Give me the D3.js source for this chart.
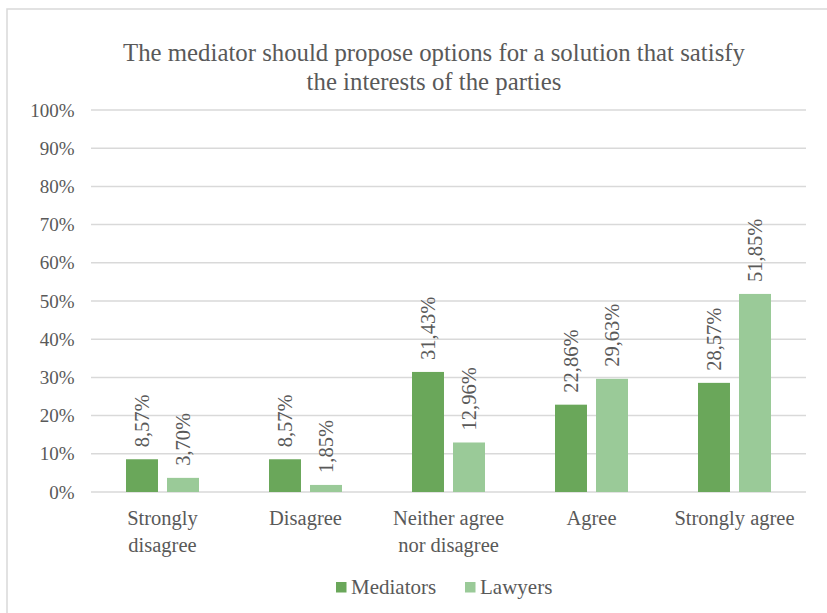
<!DOCTYPE html>
<html>
<head>
<meta charset="utf-8">
<script src="https://cdn.jsdelivr.net/npm/d3@7"></script>
<style>
  body { margin: 0; background: #fff; }
</style>
</head>
<body>
<script>
// data
const categories = ['Strongly disagree', 'Disagree', 'Neither agree nor disagree', 'Agree', 'Strongly agree'];
const catLines = [['Strongly', 'disagree'], ['Disagree'], ['Neither agree', 'nor disagree'], ['Agree'], ['Strongly agree']];
const series = ['Mediators', 'Lawyers'];
const mediators = [8.57, 8.57, 31.43, 22.86, 28.57];
const lawyers = [3.70, 1.85, 12.96, 29.63, 51.85];
const yTicks = [0, 10, 20, 30, 40, 50, 60, 70, 80, 90, 100];
const colors = ['#6aa75a', '#9aca98'];

const W = 827, H = 613;
const FONT = 'Liberation Serif';
const TXT = '#595959';
const svg = d3.select('body').append('svg').attr('width', W).attr('height', H);

// рамка
svg.append('rect').attr('x', 7).attr('y', 9).attr('width', 840).attr('height', 640)
  .attr('fill', 'none').attr('stroke', '#d9d9d9').attr('stroke-width', 1.5);

// title
const title = svg.append('text').attr('text-anchor', 'middle')
  .attr('font-family', FONT).attr('font-size', 24.8).attr('fill', TXT);
title.append('tspan').attr('x', 434).attr('y', 61).text('The mediator should propose options for a solution that satisfy');
title.append('tspan').attr('x', 434).attr('y', 90).text('the interests of the parties');

const x0 = d3.scaleBand().domain(categories).range([91, 806]);
const x1 = d3.scaleBand().domain(series).range([-36.5, 36.5]).paddingInner(0.22);
const y = d3.scaleLinear().domain([0, 100]).range([492, 110]);

// сетка
svg.append('g').selectAll('line').data(yTicks).join('line')
  .attr('x1', 91).attr('x2', 806)
  .attr('y1', d => y(d)).attr('y2', d => y(d))
  .attr('stroke', '#d9d9d9').attr('stroke-width', 1.5);

svg.append('g').selectAll('text').data(yTicks).join('text')
  .attr('x', 74.5).attr('y', d => y(d)).attr('dy', '0.35em')
  .attr('text-anchor', 'end').attr('fill', TXT)
  .attr('font-family', FONT).attr('font-size', 19)
  .text(d => d + '%');

const rows = series.map((s, i) => ({ s, i, vals: i === 0 ? mediators : lawyers }));
const g = svg.append('g');
rows.forEach(r => {
  const cx = c => x0(c) + x0.bandwidth() / 2 + x1(r.s);
  g.selectAll('rect.s' + r.i).data(categories).join('rect')
    .attr('class', 's' + r.i)
    .attr('x', d => cx(d))
    .attr('y', (d, j) => y(r.vals[j]))
    .attr('width', x1.bandwidth())
    .attr('height', (d, j) => y(0) - y(r.vals[j]))
    .attr('fill', colors[r.i]);
  g.selectAll('text.l' + r.i).data(categories).join('text')
    .attr('class', 'l' + r.i)
    .attr('transform', (d, j) => `translate(${cx(d) + x1.bandwidth() / 2},${y(r.vals[j]) - 12}) rotate(-90)`)
    .attr('dy', '0.35em').attr('fill', TXT)
    .attr('font-family', FONT).attr('font-size', 20.5)
    .text((d, j) => r.vals[j].toFixed(2).replace('.', ',') + '%');
});

// подписи категорий
const cat = svg.append('g').selectAll('text').data(categories).join('text')
  .attr('text-anchor', 'middle').attr('fill', TXT)
  .attr('font-family', FONT).attr('font-size', 20.5);
cat.each(function(d, i) {
  const t = d3.select(this);
  catLines[i].forEach((ln, k) => {
    t.append('tspan').attr('x', x0(d) + x0.bandwidth() / 2).attr('y', 525 + k * 27).text(ln);
  });
});

// легенда
const legX = [336, 465];
const leg = svg.append('g').selectAll('g').data(series).join('g')
  .attr('transform', (d, i) => `translate(${legX[i]},582)`);
leg.append('rect').attr('width', 10.5).attr('height', 10.5).attr('fill', (d, i) => colors[i]);
leg.append('text').attr('x', 15).attr('y', 12).attr('fill', TXT)
  .attr('font-family', FONT).attr('font-size', 21).text(d => d);
</script>
</body>
</html>
